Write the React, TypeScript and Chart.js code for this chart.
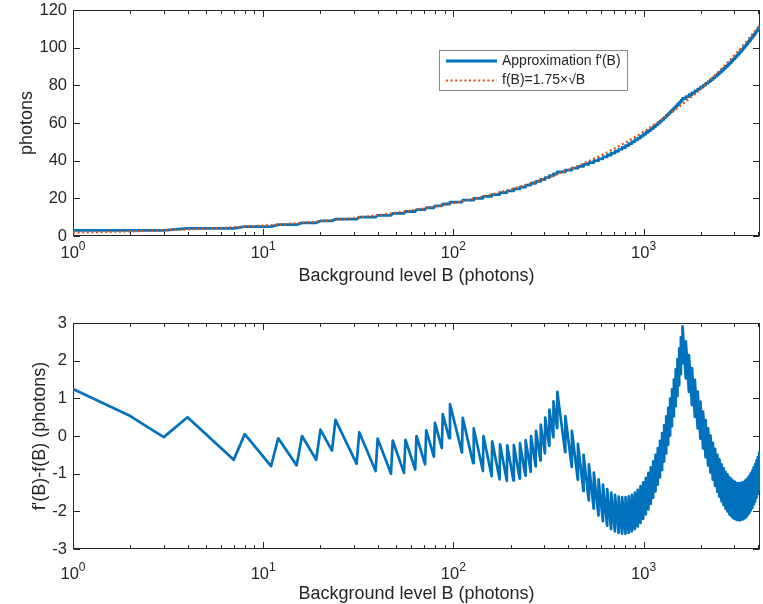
import { useEffect, useRef } from 'react';
import { Chart, registerables } from 'chart.js';

Chart.register(...registerables);

const FONT = '"Liberation Sans", Arial, Helvetica, sans-serif';
const BLUE = '#0072BD';
const ORANGE = '#D95319';
const INK = '#262626';

// ---- data ----
// approximation f'(B): integer photon levels, B where each new level starts
const startB = [1, 2];
const startLevel = [3, 3];
const startDiff = [1.25, 0.53];

const stepB = [
  4, 8, 12, 16, 20, 24,
  32, 40, 48, 56, 64, 72, 80, 88, 96,
  112, 128, 144, 160, 176, 192, 208, 224, 240, 256, 272, 288, 304, 320, 336, 352,
  388, 420, 452, 484, 516, 548, 580, 612, 644, 676, 708, 740, 772, 804, 836, 868, 900, 932, 964, 996,
  1028, 1060, 1092, 1124, 1156, 1188, 1220, 1252, 1284, 1316, 1348, 1380, 1412, 1444, 1476, 1508, 1540, 1572, 1604,
  1669, 1733, 1798, 1862, 1927, 1991, 2056, 2120, 2185, 2249, 2314, 2378, 2443, 2507, 2572, 2636, 2701, 2765, 2830,
  2894, 2959, 3023, 3088, 3152, 3217, 3281, 3346, 3410, 3475, 3539, 3604, 3668, 3733, 3797, 3862, 3926, 3991, 4055,
];

const stepLevel = [
  4, 5, 6, 7, 8, 9,
  10, 11, 12, 13, 14, 15, 16, 17, 18,
  19, 20, 21, 22, 23, 24, 25, 26, 27, 28, 29, 30, 31, 32, 33, 34,
  35, 36, 37, 38, 39, 40, 41, 42, 43, 44, 45, 46, 47, 48, 49, 50, 51, 52, 53, 54,
  55, 56, 57, 58, 59, 60, 61, 62, 63, 64, 65, 66, 67, 68, 69, 70, 71, 72, 73,
  74, 75, 76, 77, 78, 79, 80, 81, 82, 83, 84, 85, 86, 87, 88, 89, 90, 91, 92,
  93, 94, 95, 96, 97, 98, 99, 100, 101, 102, 103, 104, 105, 106, 107, 108, 109, 110, 111,
];

// f'(B)-f(B) right at each step, and one photon level before it
const diffAtStep = [
  0.5, 0.05, -0.06, 0.0, 0.17, 0.43,
  0.1, -0.07, -0.12, -0.1, 0.0, 0.15, 0.35, 0.58, 0.85,
  0.48, 0.2, 0.0, -0.14, -0.22, -0.25, -0.24, -0.19, -0.11, 0.0, 0.14, 0.3, 0.49, 0.7, 0.92, 1.17,
  0.53, 0.14, -0.21, -0.5, -0.75, -0.97, -1.15, -1.29, -1.41, -1.5, -1.56, -1.61, -1.62, -1.62, -1.6, -1.56, -1.5, -1.43, -1.33, -1.23,
  -1.11, -0.98, -0.83, -0.67, -0.5, -0.32, -0.13, 0.08, 0.29, 0.52, 0.75, 0.99, 1.24, 1.5, 1.77, 2.04, 2.33, 2.62, 2.91,
  2.51, 2.15, 1.8, 1.49, 1.18, 0.91, 0.65, 0.42, 0.2, 0.01, -0.18, -0.34, -0.5, -0.62, -0.75, -0.85, -0.95, -1.02, -1.1,
  -1.14, -1.19, -1.22, -1.25, -1.25, -1.26, -1.24, -1.23, -1.19, -1.16, -1.11, -1.06, -0.99, -0.92, -0.83, -0.75, -0.65, -0.56, -0.44,
];

const diffBeforeStep = [
  -0.03, -0.63, -0.8, -0.78, -0.63, -0.39,
  -0.74, -0.93, -1.0, -0.98, -0.89, -0.75, -0.55, -0.32, -0.06,
  -0.44, -0.72, -0.93, -1.07, -1.15, -1.19, -1.18, -1.13, -1.05, -0.95, -0.81, -0.65, -0.46, -0.26, -0.03, 0.21,
  -0.43, -0.82, -1.16, -1.46, -1.71, -1.93, -2.11, -2.26, -2.38, -2.47, -2.53, -2.57, -2.59, -2.59, -2.57, -2.53, -2.47, -2.4, -2.31, -2.2,
  -2.08, -1.95, -1.8, -1.64, -1.47, -1.29, -1.1, -0.9, -0.68, -0.46, -0.23, 0.01, 0.26, 0.52, 0.79, 1.06, 1.35, 1.64, 1.93,
  1.53, 1.17, 0.82, 0.51, 0.2, -0.07, -0.33, -0.56, -0.78, -0.97, -1.16, -1.32, -1.48, -1.61, -1.73, -1.83, -1.93, -2.0, -2.08,
  -2.13, -2.18, -2.2, -2.23, -2.23, -2.24, -2.22, -2.21, -2.18, -2.15, -2.09, -2.04, -1.97, -1.91, -1.82, -1.74, -1.64, -1.54, -1.42,
];

const endB = 4096;
const endLevel = 111;
const endDiff = -1.0;

// reference curve f(B)=1.75*sqrt(B)
const refB = [1, 2, 3, 4, 6, 8, 12, 16, 24, 32, 48, 64, 96, 128, 192, 256, 384, 512, 768, 1024, 1536, 2048, 3072, 4096];
const refValue = [1.75, 2.47, 3.03, 3.5, 4.29, 4.95, 6.06, 7.0, 8.57, 9.9, 12.12, 14.0, 17.15, 19.8, 24.25, 28.0, 34.29, 39.6, 48.5, 56.0, 68.59, 79.2, 97.0, 112.0];

const xMajorTicks = [1, 10, 100, 1000];
const xTickExponents = ['0', '1', '2', '3'];
const xMinorTicks = [2, 3, 4, 5, 6, 7, 8, 9, 20, 30, 40, 50, 60, 70, 80, 90, 200, 300, 400, 500, 600, 700, 800, 900, 2000, 3000, 4000];
const topYTicks = [0, 20, 40, 60, 80, 100, 120];
const bottomYTicks = [-3, -2, -1, 0, 1, 2, 3];

const xTitle = 'Background level B (photons)';
const topYTitle = 'photons';
const bottomYTitle = "f'(B)-f(B) (photons)";
const legendApprox = "Approximation f'(B)";
const legendRef = 'f(B)=1.75\u00d7\u221aB';

// ---- series tables for Chart.js ----
type Pt = { x: number; y: number };
const approxPoints: Pt[] = [];
const diffPoints: Pt[] = [];
startB.forEach((b, i) => {
  approxPoints.push({ x: b, y: startLevel[i] });
  diffPoints.push({ x: b, y: startDiff[i] });
});
stepB.forEach((b, i) => {
  const prevLevel = i === 0 ? startLevel[startLevel.length - 1] : stepLevel[i - 1];
  approxPoints.push({ x: b - 1, y: prevLevel });
  approxPoints.push({ x: b, y: stepLevel[i] });
  diffPoints.push({ x: b - 1, y: diffBeforeStep[i] });
  diffPoints.push({ x: b, y: diffAtStep[i] });
});
approxPoints.push({ x: endB, y: endLevel });
diffPoints.push({ x: endB, y: endDiff });
const refPoints: Pt[] = refB.map((b, i) => ({ x: b, y: refValue[i] }));

type AxCfg = {
  yTicks: number[];
  yTitle: string;
  yTitleX: number;
  xLabelBaseline: number;
  xTitleBaseline: number;
  legend: boolean;
};

function makeAxesPlugin(cfg: AxCfg) {
  return {
    id: 'matlabAxes',
    beforeDatasetsDraw(chart: any) {
      const ctx: CanvasRenderingContext2D = chart.ctx;
      const a = chart.chartArea;
      const xs = chart.scales.x;
      const ys = chart.scales.y;
      const L = Math.round(a.left) + 0.5;
      const R = Math.round(a.right) - 0.5;
      const T = Math.round(a.top) + 0.5;
      const B = Math.round(a.bottom) - 0.5;
      ctx.save();
      ctx.strokeStyle = INK;
      ctx.lineWidth = 1;
      ctx.beginPath();
      xMajorTicks.forEach((v) => {
        const p = Math.round(xs.getPixelForValue(v)) + 0.5;
        ctx.moveTo(p, B);
        ctx.lineTo(p, B - 6.5);
        ctx.moveTo(p, T);
        ctx.lineTo(p, T + 6.5);
      });
      xMinorTicks.forEach((v) => {
        const p = Math.round(xs.getPixelForValue(v)) + 0.5;
        ctx.moveTo(p, B);
        ctx.lineTo(p, B - 3.5);
        ctx.moveTo(p, T);
        ctx.lineTo(p, T + 3.5);
      });
      cfg.yTicks.forEach((v) => {
        const p = Math.round(ys.getPixelForValue(v)) + 0.5;
        ctx.moveTo(L, p);
        ctx.lineTo(L + 6.5, p);
        ctx.moveTo(R, p);
        ctx.lineTo(R - 6.5, p);
      });
      ctx.stroke();
      ctx.strokeRect(L, T, R - L, B - T);
      ctx.restore();
    },
    afterDraw(chart: any) {
      const ctx: CanvasRenderingContext2D = chart.ctx;
      const a = chart.chartArea;
      const xs = chart.scales.x;
      const ys = chart.scales.y;
      ctx.save();
      ctx.fillStyle = INK;
      // y tick labels
      ctx.font = `16.5px ${FONT}`;
      ctx.textAlign = 'right';
      ctx.textBaseline = 'middle';
      cfg.yTicks.forEach((v) => {
        ctx.fillText(String(v), a.left - 6, ys.getPixelForValue(v));
      });
      // x tick labels 10^n
      ctx.textAlign = 'left';
      ctx.textBaseline = 'alphabetic';
      xMajorTicks.forEach((v, i) => {
        const px = xs.getPixelForValue(v);
        ctx.font = `16.5px ${FONT}`;
        const w1 = ctx.measureText('10').width;
        ctx.font = `12px ${FONT}`;
        const w2 = ctx.measureText(xTickExponents[i]).width;
        const x0 = px - (w1 + w2) / 2;
        ctx.font = `16.5px ${FONT}`;
        ctx.fillText('10', x0, cfg.xLabelBaseline);
        ctx.font = `12px ${FONT}`;
        ctx.fillText(xTickExponents[i], x0 + w1, cfg.xLabelBaseline - 8);
      });
      // x title
      ctx.font = `18px ${FONT}`;
      ctx.textAlign = 'center';
      ctx.fillText(xTitle, (a.left + a.right) / 2, cfg.xTitleBaseline);
      // y title
      ctx.save();
      ctx.translate(cfg.yTitleX, (a.top + a.bottom) / 2);
      ctx.rotate(-Math.PI / 2);
      ctx.textBaseline = 'middle';
      ctx.fillText(cfg.yTitle, 0, 0);
      ctx.restore();
      // legend
      if (cfg.legend) {
        const lx = 439.5, ly = 50.5, lw = 188, lh = 40;
        ctx.fillStyle = '#ffffff';
        ctx.fillRect(lx, ly, lw, lh);
        ctx.strokeStyle = '#8a8a8a';
        ctx.lineWidth = 1;
        ctx.strokeRect(lx, ly, lw, lh);
        ctx.lineWidth = 2.8;
        ctx.strokeStyle = BLUE;
        ctx.beginPath();
        ctx.moveTo(446, 61);
        ctx.lineTo(497, 61);
        ctx.stroke();
        ctx.lineWidth = 2.2;
        ctx.strokeStyle = ORANGE;
        ctx.setLineDash([2, 2.6]);
        ctx.beginPath();
        ctx.moveTo(446, 80.5);
        ctx.lineTo(497, 80.5);
        ctx.stroke();
        ctx.setLineDash([]);
        ctx.fillStyle = INK;
        ctx.font = `14px ${FONT}`;
        ctx.textAlign = 'left';
        ctx.textBaseline = 'middle';
        ctx.fillText(legendApprox, 502, 61);
        ctx.fillText(legendRef, 502, 80.5);
      }
      ctx.restore();
    },
  };
}

function baseScales(yMin: number, yMax: number, xHeight: number) {
  return {
    x: {
      type: 'logarithmic',
      min: 1,
      max: 4096,
      ticks: { display: false },
      grid: { display: false },
      border: { display: false },
      afterFit: (s: any) => {
        s.height = xHeight;
      },
    },
    y: {
      type: 'linear',
      min: yMin,
      max: yMax,
      ticks: { display: false },
      grid: { display: false },
      border: { display: false },
      afterFit: (s: any) => {
        s.width = 73;
      },
    },
  };
}

export default function App() {
  const topRef = useRef<HTMLCanvasElement>(null);
  const botRef = useRef<HTMLCanvasElement>(null);

  useEffect(() => {
    document.body.style.margin = '0';
    document.body.style.background = '#ffffff';
    const top = new Chart(topRef.current as HTMLCanvasElement, {
      type: 'line',
      data: {
        datasets: [
          {
            label: legendRef,
            data: refPoints,
            borderColor: ORANGE,
            borderWidth: 2.2,
            borderDash: [2, 2.6],
            pointRadius: 0,
            cubicInterpolationMode: 'monotone',
            fill: false,
            order: 1,
          },
          {
            label: legendApprox,
            data: approxPoints,
            borderColor: BLUE,
            borderWidth: 2.8,
            borderJoinStyle: 'round',
            pointRadius: 0,
            fill: false,
            order: 2,
          },
        ],
      } as any,
      options: {
        responsive: false,
        animation: false,
        devicePixelRatio: 1,
        events: [],
        layout: { padding: { top: 10, right: 3, left: 0, bottom: 0 } },
        plugins: { legend: { display: false }, tooltip: { enabled: false } },
        scales: baseScales(0, 120, 64) as any,
      },
      plugins: [
        makeAxesPlugin({
          yTicks: topYTicks,
          yTitle: topYTitle,
          yTitleX: 27,
          xLabelBaseline: 258,
          xTitleBaseline: 281,
          legend: true,
        }),
      ],
    });
    const bottom = new Chart(botRef.current as HTMLCanvasElement, {
      type: 'line',
      data: {
        datasets: [
          {
            label: bottomYTitle,
            data: diffPoints,
            borderColor: BLUE,
            borderWidth: 2.7,
            borderJoinStyle: 'round',
            pointRadius: 0,
            fill: false,
          },
        ],
      } as any,
      options: {
        responsive: false,
        animation: false,
        devicePixelRatio: 1,
        events: [],
        layout: { padding: { top: 23, right: 3, left: 0, bottom: 0 } },
        plugins: { legend: { display: false }, tooltip: { enabled: false } },
        scales: baseScales(-3, 3, 55) as any,
      },
      plugins: [
        makeAxesPlugin({
          yTicks: bottomYTicks,
          yTitle: bottomYTitle,
          yTitleX: 40,
          xLabelBaseline: 279,
          xTitleBaseline: 299,
          legend: false,
        }),
      ],
    });
    return () => {
      top.destroy();
      bottom.destroy();
    };
  }, []);

  return (
    <div style={{ position: 'relative', width: 763, height: 604, background: '#ffffff' }}>
      <canvas ref={topRef} width={763} height={300} style={{ position: 'absolute', left: 0, top: 0 }} />
      <canvas ref={botRef} width={763} height={304} style={{ position: 'absolute', left: 0, top: 300 }} />
    </div>
  );
}
